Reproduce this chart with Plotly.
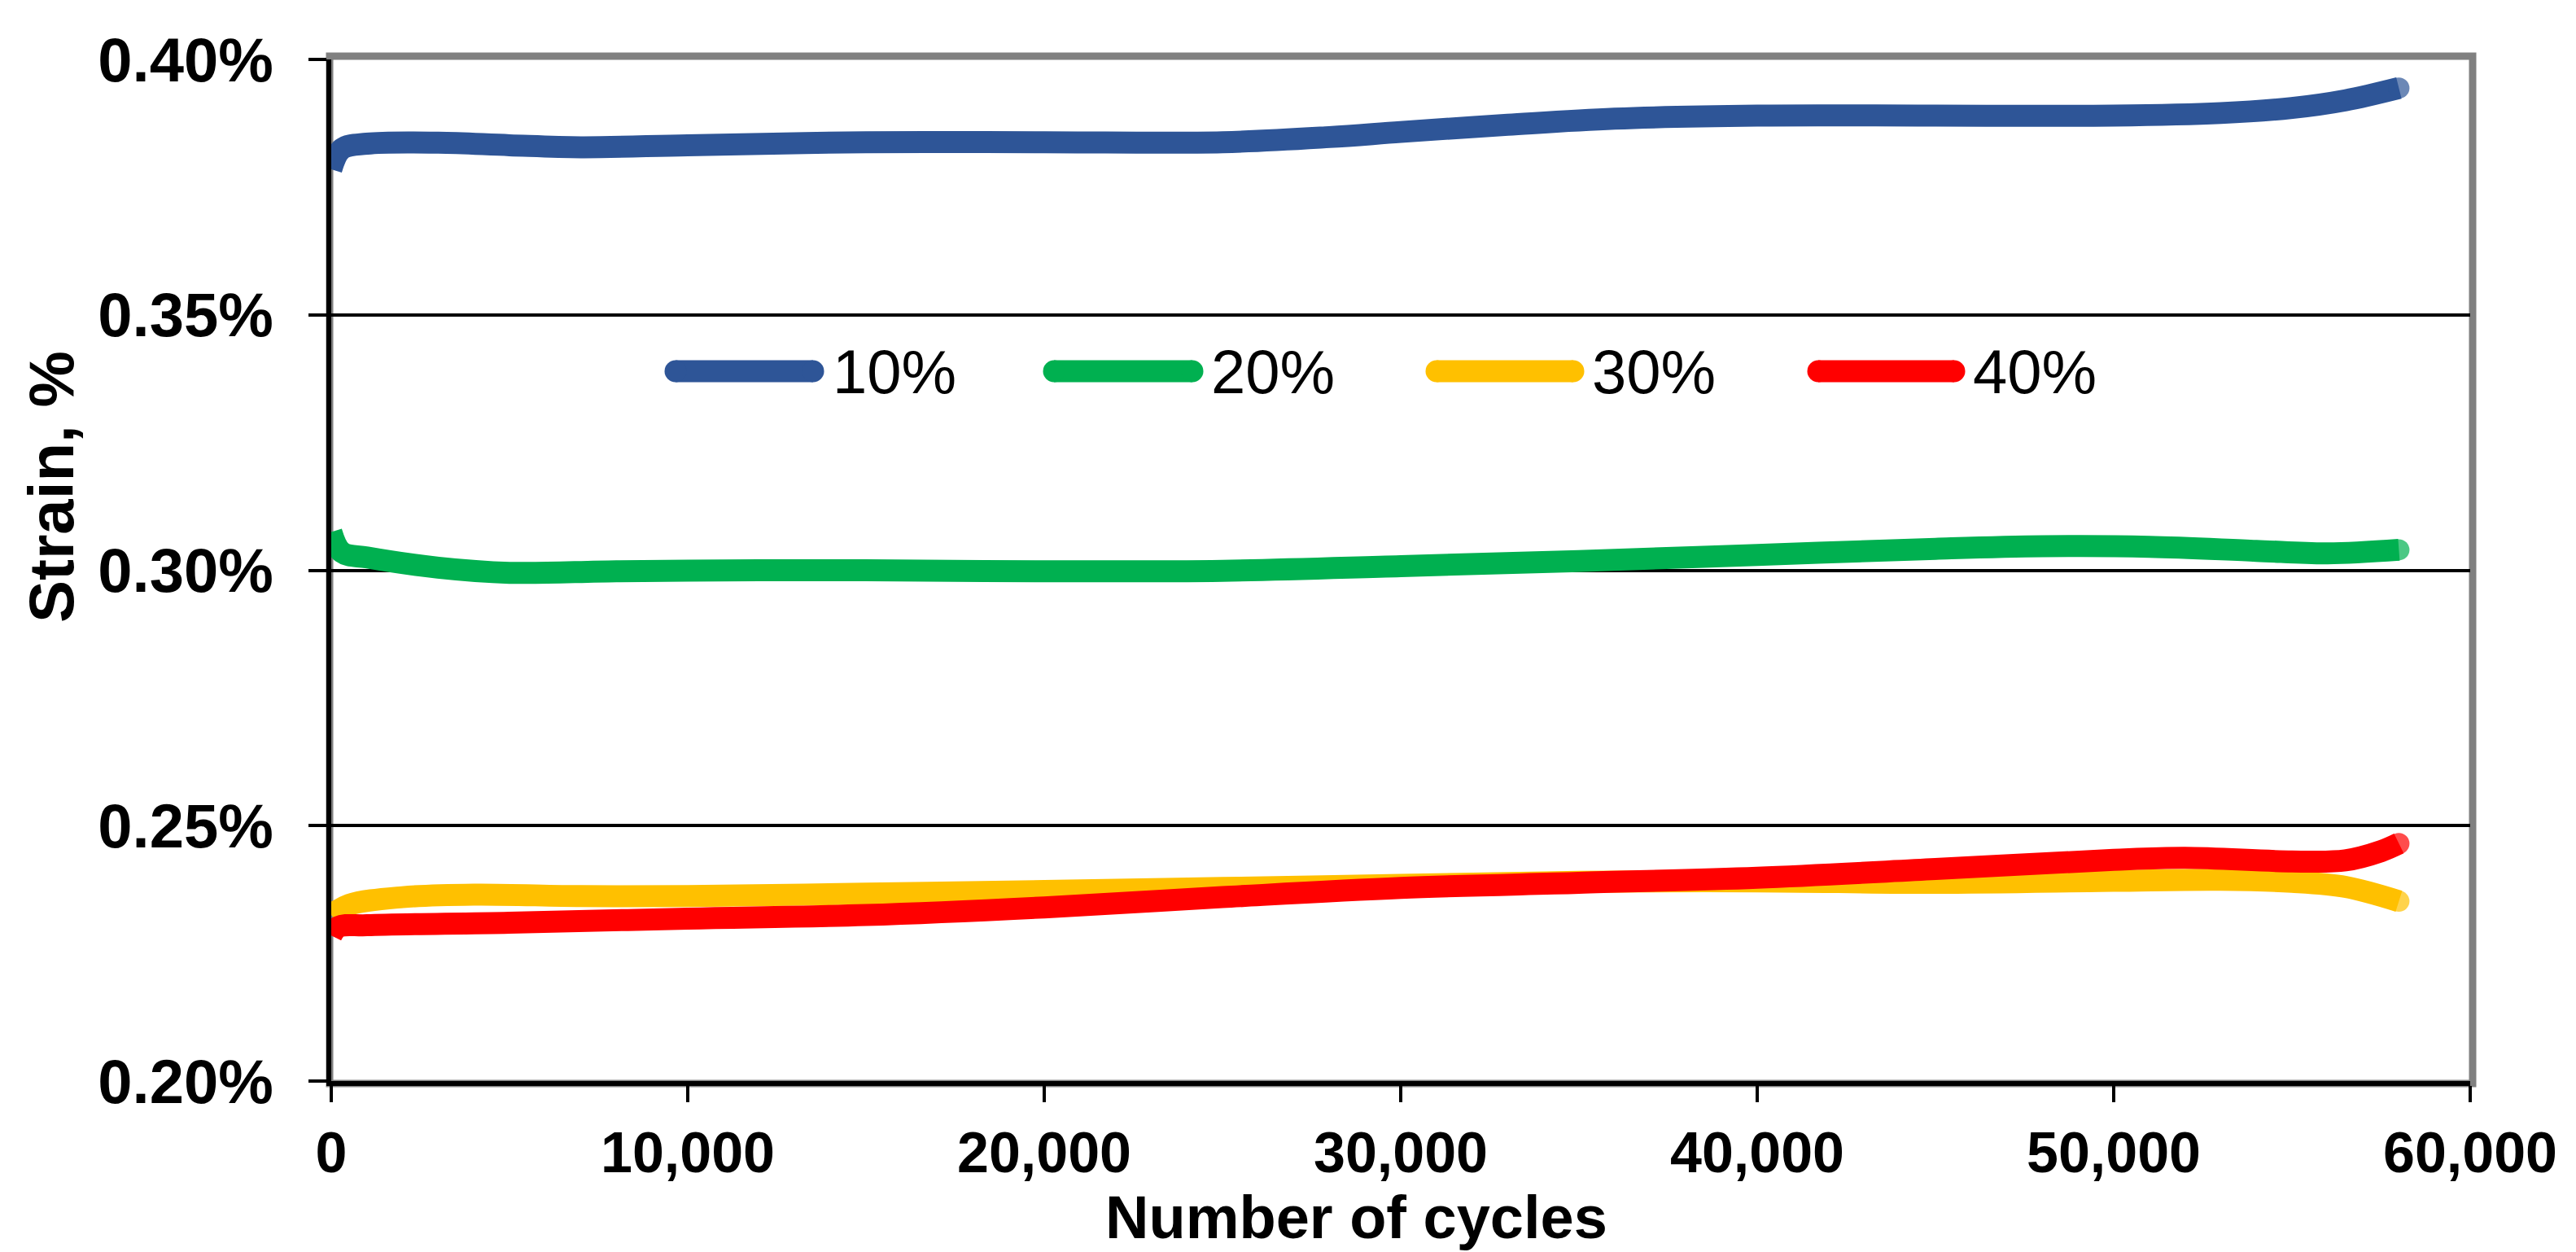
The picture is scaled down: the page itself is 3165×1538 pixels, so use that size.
import plotly.graph_objects as go

# ---------------- data (strain in %) ----------------
series_names = ["10%", "20%", "30%", "40%"]
series_colors = ["#2E5597", "#00B050", "#FFC000", "#FF0000"]

x_10 = [0, 300, 1000, 3000, 5000, 7000, 10000, 15000, 20000, 25000, 28000, 30000,
        33000, 36000, 40000, 45000, 50000, 53000, 55000, 56500, 58000]
y_10 = [0.3785, 0.3825, 0.3835, 0.3837, 0.3832, 0.3828, 0.3832, 0.3838, 0.3838, 0.3838,
        0.3848, 0.3858, 0.3872, 0.3884, 0.3890, 0.3890, 0.3890, 0.3895, 0.3905, 0.3920, 0.3944]

x_20 = [0, 300, 1000, 3000, 5000, 8000, 12000, 15000, 20000, 25000, 30000, 35000,
        40000, 45000, 48000, 51000, 54000, 56000, 58000]
y_20 = [0.3075, 0.3035, 0.3025, 0.3005, 0.2995, 0.2998, 0.3000, 0.3000, 0.2998, 0.2999,
        0.3008, 0.3018, 0.3030, 0.3042, 0.3047, 0.3046, 0.3038, 0.3033, 0.3040]

x_30 = [0, 500, 2000, 4000, 7000, 10000, 15000, 20000, 25000, 30000, 35000, 40000,
        45000, 50000, 53000, 55000, 56500, 58000]
y_30 = [0.2325, 0.2345, 0.2360, 0.2365, 0.2362, 0.2362, 0.2367, 0.2372, 0.2378, 0.2384,
        0.2390, 0.2391, 0.2388, 0.2392, 0.2394, 0.2390, 0.2380, 0.2352]

x_40 = [0, 200, 1000, 5000, 10000, 15000, 20000, 25000, 30000, 35000, 40000, 45000,
        50000, 52000, 55000, 56500, 57500, 58000]
y_40 = [0.2285, 0.2302, 0.2305, 0.2310, 0.2318, 0.2325, 0.2340, 0.2360, 0.2378, 0.2388,
        0.2398, 0.2415, 0.2433, 0.2437, 0.2430, 0.2432, 0.2450, 0.2465]

x_ticks = [0, 10000, 20000, 30000, 40000, 50000, 60000]
x_tick_labels = ["0", "10,000", "20,000", "30,000", "40,000", "50,000", "60,000"]
y_ticks = [0.20, 0.25, 0.30, 0.35, 0.40]
y_tick_labels = ["0.20%", "0.25%", "0.30%", "0.35%", "0.40%"]

x_title = "Number of cycles"
y_title = "Strain, %"

# ---------------- figure ----------------
W, H = 3165, 1538
ML, MR, MT, MB = 399, 138, 65, 218
PW, PH = W - ML - MR, H - MT - MB
LW = 27
FONT = "Liberation Sans, Arial, sans-serif"

fig = go.Figure()
all_x = [x_10, x_20, x_30, x_40]
all_y = [y_10, y_20, y_30, y_40]
for name, col, xs, ys in zip(series_names, series_colors, all_x, all_y):
    sizes = [0] * (len(xs) - 1) + [LW - 1]
    fig.add_trace(go.Scatter(
        x=xs, y=ys, name=name, mode="lines+markers",
        line=dict(color=col, width=LW, shape="spline", smoothing=1.0),
        marker=dict(size=sizes, color=col, line=dict(width=0)),
        showlegend=False, cliponaxis=True))

# plot frame (gray)
fig.add_shape(type="rect", xref="paper", yref="paper",
              x0=-2 / PW, x1=1 + 3 / PW, y0=-3 / PH, y1=1 + 4 / PH,
              line=dict(color="#808080", width=9), layer="below")

# manual legend (long rounded swatches)
leg_y = (H - MB - 448) / PH
leg_items = [(809, 1004, 1013), (1274, 1470, 1478), (1744, 1938, 1946), (2213, 2406, 2414)]
for (sx0, sx1, tx), name, col in zip(leg_items, series_names, series_colors):
    px0 = (sx0 - ML + 13) / PW
    px1 = (sx1 - ML - 13) / PW
    fig.add_shape(type="line", xref="paper", yref="paper", x0=px0, x1=px1,
                  y0=leg_y, y1=leg_y, line=dict(color=col, width=LW))
    for px in (px0, px1):
        fig.add_shape(type="circle", xref="paper", yref="paper",
                      xsizemode="pixel", ysizemode="pixel",
                      xanchor=px, yanchor=leg_y, x0=-13.5, x1=13.5, y0=-13.5, y1=13.5,
                      line=dict(width=0), fillcolor=col)
    fig.add_annotation(text=name, xref="paper", yref="paper",
                       x=(tx - ML) / PW, y=leg_y, xanchor="left", yanchor="middle",
                       showarrow=False, font=dict(family=FONT, size=76, color="black"))

# axis titles
fig.add_annotation(text="<b>%s</b>" % x_title, xref="paper", yref="paper",
                   x=(1658 - ML) / PW, y=(H - MB - 1487) / PH,
                   xanchor="center", yanchor="middle", showarrow=False,
                   font=dict(family=FONT, size=74, color="black"))
fig.add_annotation(text="<b>%s</b>" % y_title, xref="paper", yref="paper",
                   x=(55 - ML) / PW, y=(H - MB - 590) / PH, textangle=-90,
                   xanchor="center", yanchor="middle", showarrow=False,
                   font=dict(family=FONT, size=78, color="black"))

fig.update_layout(
    width=W, height=H, autosize=False,
    margin=dict(l=ML, r=MR, t=MT, b=MB, pad=0),
    paper_bgcolor="white", plot_bgcolor="white",
    font=dict(family=FONT, color="black"),
    showlegend=False,
    xaxis=dict(range=[0, 60000], tickvals=x_ticks, ticktext=x_tick_labels,
               showgrid=False, zeroline=False,
               showline=True, linecolor="black", linewidth=6,
               ticks="outside", ticklen=20, tickwidth=4, tickcolor="black",
               tickfont=dict(family=FONT, size=70, color="black", weight="bold"),
               ticklabelstandoff=2),
    yaxis=dict(range=[0.20, 0.40], tickvals=y_ticks, ticktext=y_tick_labels,
               showgrid=True, gridcolor="black", gridwidth=4, zeroline=False,
               showline=True, linecolor="black", linewidth=6,
               ticks="outside", ticklen=22, tickwidth=4, tickcolor="black",
               tickfont=dict(family=FONT, size=76, color="black", weight="bold"),
               ticklabelstandoff=28),
)

fig.write_html("out.html")
